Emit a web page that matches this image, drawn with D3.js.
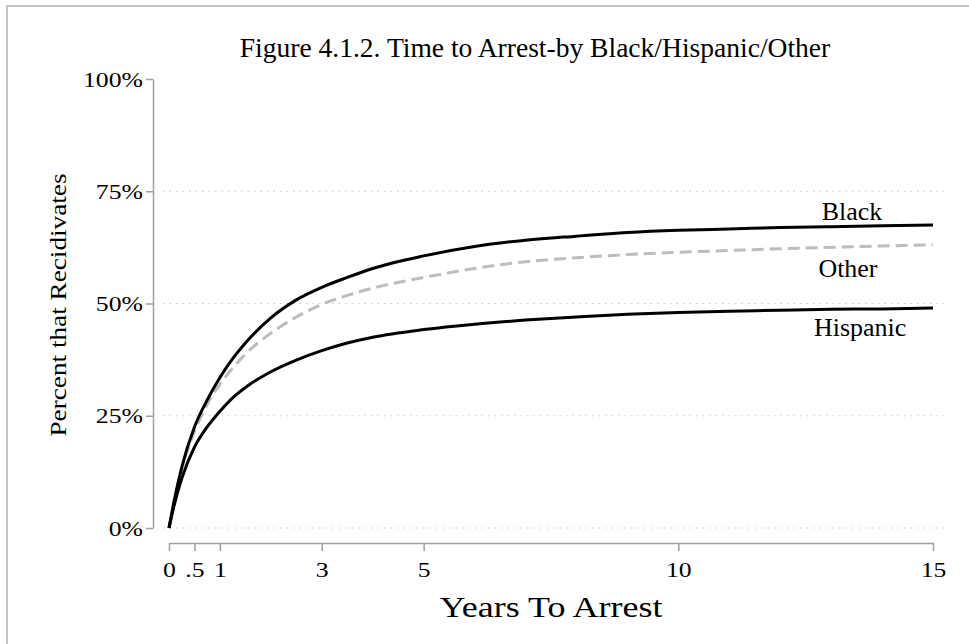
<!DOCTYPE html>
<html>
<head>
<meta charset="utf-8">
<script src="https://cdn.jsdelivr.net/npm/d3@7.9.0/dist/d3.min.js"></script>
<style>
  body { margin: 0; background: #fff; }
  svg { display: block; }
  text { font-family: "Liberation Serif", "Times New Roman", serif; fill: #000; }
</style>
</head>
<body>
<svg width="969" height="644"></svg>
<script>
// years since release, and cumulative percent rearrested per group
const years    = [0, 0.1, 0.25, 0.5, 0.75, 1, 1.25, 1.5, 2, 2.5, 3, 3.5, 4, 5, 6, 7, 8, 9, 10, 11, 12, 13, 14, 15];
const black    = [0, 6, 13.5, 22.5, 28.5, 33.5, 37.7, 41.2, 46.8, 50.8, 53.6, 55.8, 57.8, 60.6, 62.7, 64.1, 65.0, 65.8, 66.3, 66.6, 66.9, 67.1, 67.3, 67.5];
const hispanic = [0, 5, 11, 18, 22.5, 26, 29, 31.3, 34.8, 37.4, 39.5, 41.2, 42.5, 44.2, 45.4, 46.3, 47.0, 47.6, 48.0, 48.3, 48.5, 48.7, 48.8, 49.0];
const other    = [0, 5.5, 13, 21.5, 27.5, 32, 35.6, 38.7, 43.4, 47, 49.8, 51.8, 53.4, 55.8, 57.8, 59.3, 60.2, 60.9, 61.4, 61.8, 62.2, 62.5, 62.8, 63.1];

const xTicks = [0, 0.5, 1, 3, 5, 10, 15];
const xTickLabels = ["0", ".5", "1", "3", "5", "10", "15"];
const yTicks = [0, 25, 50, 75, 100];
const gridTicks = [0, 25, 50, 75];

const title = "Figure 4.1.2. Time to Arrest-by Black/Hispanic/Other";

const svg = d3.select("svg");

// outer frame
svg.append("rect")
  .attr("x", 7).attr("y", 6).attr("width", 1000).attr("height", 1000)
  .attr("fill", "none").attr("stroke", "#c4c4c4").attr("stroke-width", 2);

const x = d3.scaleLinear().domain([0, 15]).range([169, 933]);
const y = d3.scaleLinear().domain([0, 100]).range([528, 79]);

// dotted gridlines
svg.append("g").selectAll("line")
  .data(gridTicks)
  .enter().append("line")
  .attr("x1", 163).attr("x2", 945)
  .attr("y1", d => y(d)).attr("y2", d => y(d))
  .attr("stroke", "#c8c8c8").attr("stroke-width", 1)
  .attr("stroke-dasharray", "1.5,5");

// axes
const tickSX = 1.17;
let yAxis = svg.append("g")
  .attr("transform", "translate(153,0)")
  .call(d3.axisLeft(y).tickValues(yTicks).tickFormat(d => d + "%").tickSize(7).tickSizeOuter(0).tickPadding(3));

let xAxis = svg.append("g")
  .attr("transform", "translate(0,543)")
  .call(d3.axisBottom(x).tickValues(xTicks).tickFormat((d, i) => xTickLabels[i]).tickSize(8).tickSizeOuter(0).tickPadding(10));

[yAxis, xAxis].forEach(g => {
  g.select(".domain").attr("stroke", "#a0a0a0").attr("stroke-width", 1.5);
  g.selectAll(".tick line").attr("stroke", "#a0a0a0").attr("stroke-width", 1.5);
  g.selectAll(".tick text").attr("font-size", 22).attr("fill", "#000")
    .attr("transform", `scale(${tickSX},1)`);
});
yAxis.selectAll(".tick text").attr("x", -10 / tickSX);

// curves
let line = d3.line()
  .x((d, i) => x(years[i]))
  .y(d => y(d))
  .curve(d3.curveMonotoneX);

svg.append("path").datum(other)
  .attr("d", line).attr("fill", "none")
  .attr("stroke", "#bdbdbd").attr("stroke-width", 3)
  .attr("stroke-dasharray", "12,6");

svg.append("path").datum(hispanic)
  .attr("d", line).attr("fill", "none")
  .attr("stroke", "#000").attr("stroke-width", 3);

svg.append("path").datum(black)
  .attr("d", line).attr("fill", "none")
  .attr("stroke", "#000").attr("stroke-width", 3);

// text helper, with a horizontal stretch
function label(px, py, str, size, sx, color, rotate) {
  return svg.append("text")
    .attr("transform", `translate(${px},${py})` + (rotate ? ` rotate(${rotate})` : "") + ` scale(${sx},1)`)
    .attr("text-anchor", "middle")
    .attr("font-size", size)
    .attr("fill", color || "#000")
    .text(str);
}

// series labels
label(x(13.41), y(68.6), "Black", 24.5, 1.06);
label(x(13.33), y(56.0), "Other", 24.5, 1.06, "#ababab");
label(x(13.57), y(42.7), "Hispanic", 24.5, 1.06);

// titles
label(535, 57, title, 26.5, 1.04);
label(551, 617, "Years To Arrest", 30, 1.2);
label(66, 305, "Percent that Recidivates", 22.7, 1.2, "#000", -90);
</script>
</body>
</html>
